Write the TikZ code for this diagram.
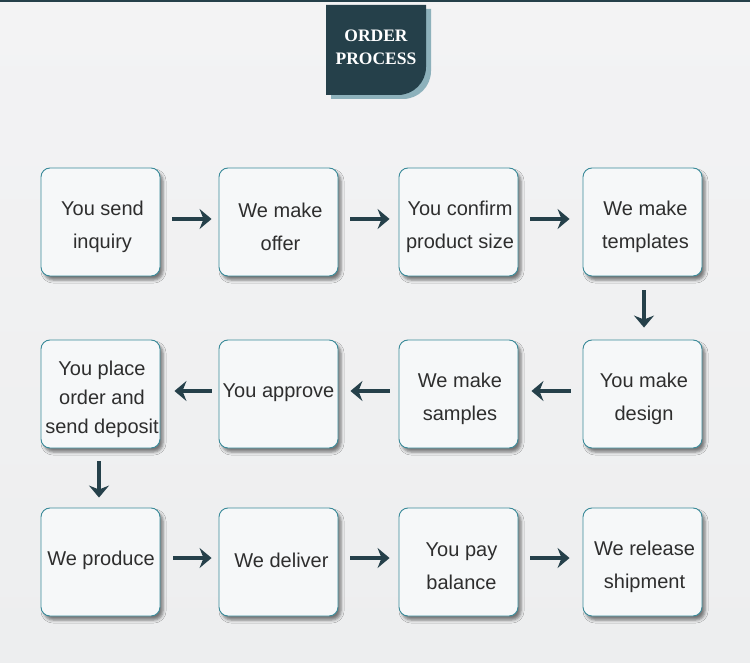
\documentclass[tikz,border=0pt]{standalone}
\usepackage{fontspec}
\setmainfont{Liberation Sans}
\newfontfamily\titlefont{Liberation Serif}
\usetikzlibrary{arrows.meta,shadows.blur}
\definecolor{darkteal}{HTML}{25404A}
\definecolor{lightteal}{HTML}{8DB1BB}
\definecolor{boxedge}{HTML}{3A8A99}
\definecolor{boxfill}{HTML}{F6F8F9}
\definecolor{bgcol}{HTML}{EDEEEF}
\definecolor{bgtop}{HTML}{F3F3F4}
\definecolor{txtcol}{HTML}{2E2E2E}
\tikzset{
  stepbox/.style={draw=boxedge, line width=0.9pt, fill=boxfill, rounded corners=9pt,
    minimum width=119pt, minimum height=108pt, inner sep=0pt,
    blur shadow={shadow xshift=3pt, shadow yshift=-4pt, shadow blur radius=3pt, shadow opacity=50}},
  boxtext/.style={align=center, inner sep=0pt, text=txtcol, font=\fontsize{20}{33}\selectfont},
  threeline/.style={font=\fontsize{20}{29}\selectfont},
  flow/.style={draw=darkteal, line width=3.2pt, -{Stealth[length=12pt,width=20pt,inset=4pt]}}
}
\begin{document}
\begin{tikzpicture}[x=1pt,y=-1pt]
% background
\shade[top color=bgtop, bottom color=bgcol] (0,0) rectangle (750,663);
\fill[darkteal] (0,0) rectangle (750,2.5);
% title
\fill[lightteal] (331,9) -- (431,9) -- (431,71) arc[start angle=0,end angle=90,radius=28] -- (331,99) -- cycle;
\fill[darkteal] (326,5) -- (426,5) -- (426,67) arc[start angle=0,end angle=90,radius=28] -- (326,95) -- cycle;
\node[text=white, font=\titlefont\bfseries\fontsize{17.5}{23}\selectfont, align=center] (title) at (376,47) {ORDER\\PROCESS};
% boxes
\node[stepbox] (b1) at (100.5,222) {};
\node[stepbox] (b2) at (278.5,222) {};
\node[stepbox] (b3) at (458.5,222) {};
\node[stepbox] (b4) at (642.5,222) {};
\node[stepbox] (b5) at (642.5,394) {};
\node[stepbox] (b6) at (458.5,394) {};
\node[stepbox] (b7) at (278.5,394) {};
\node[stepbox] (b8) at (100.5,394) {};
\node[stepbox] (b9) at (100.5,562) {};
\node[stepbox] (b10) at (278.5,562) {};
\node[stepbox] (b11) at (458.5,562) {};
\node[stepbox] (b12) at (642.5,562) {};
% texts
\node[boxtext] (t1) at ([xshift=2pt,yshift=-4.5pt]b1.center) {You send\\inquiry};
\node[boxtext] (t2) at ([xshift=2pt,yshift=-4.5pt]b2.center) {We make\\offer};
\node[boxtext] (t3) at ([xshift=1.5pt,yshift=-4.5pt]b3.center) {You confirm\\product size};
\node[boxtext] (t4) at ([xshift=3pt,yshift=-4.5pt]b4.center) {We make\\templates};
\node[boxtext] (t5) at ([xshift=1.5pt,yshift=-4.5pt]b5.center) {You make\\design};
\node[boxtext] (t6) at ([xshift=1.5pt,yshift=-4.5pt]b6.center) {We make\\samples};
\node[boxtext] (t7) at ([xshift=0pt,yshift=1pt]b7.center) {You approve};
\node[boxtext,threeline] (t8) at ([xshift=1.5pt,yshift=-5pt]b8.center) {You place\\order and\\send deposit};
\node[boxtext] (t9) at ([xshift=0.5pt,yshift=1.5pt]b9.center) {We produce};
\node[boxtext] (t10) at ([xshift=3pt,yshift=2pt]b10.center) {We deliver};
\node[boxtext] (t11) at ([xshift=3pt,yshift=-4.5pt]b11.center) {You pay\\balance};
\node[boxtext] (t12) at ([xshift=2pt,yshift=-4.5pt]b12.center) {We release\\shipment};
% arrows
\draw[flow, shorten <=12pt, shorten >=7pt] ([yshift=3pt]b1.east) -- ([yshift=3pt]b2.west);
\draw[flow, shorten <=12pt, shorten >=9pt] ([yshift=3pt]b2.east) -- ([yshift=3pt]b3.west);
\draw[flow, shorten <=12pt, shorten >=13pt] ([yshift=3pt]b3.east) -- ([yshift=3pt]b4.west);
\draw[flow, shorten <=14pt, shorten >=12pt] ([xshift=1.5pt]b4.south) -- ([xshift=1.5pt]b5.north);
\draw[flow, shorten <=12pt, shorten >=13pt] ([yshift=3pt]b5.west) -- ([yshift=3pt]b6.east);
\draw[flow, shorten <=9pt, shorten >=12pt] ([yshift=3pt]b6.west) -- ([yshift=3pt]b7.east);
\draw[flow, shorten <=7pt, shorten >=14pt] ([yshift=3pt]b7.west) -- ([yshift=3pt]b8.east);
\draw[flow, shorten <=13pt, shorten >=10pt] ([xshift=-1.5pt]b8.south) -- ([xshift=-1.5pt]b9.north);
\draw[flow, shorten <=13pt, shorten >=7pt] ([yshift=4pt]b9.east) -- ([yshift=4pt]b10.west);
\draw[flow, shorten <=12pt, shorten >=9pt] ([yshift=4pt]b10.east) -- ([yshift=4pt]b11.west);
\draw[flow, shorten <=12pt, shorten >=13pt] ([yshift=4pt]b11.east) -- ([yshift=4pt]b12.west);
\useasboundingbox (0,0) rectangle (750,663);
\end{tikzpicture}
\end{document}
